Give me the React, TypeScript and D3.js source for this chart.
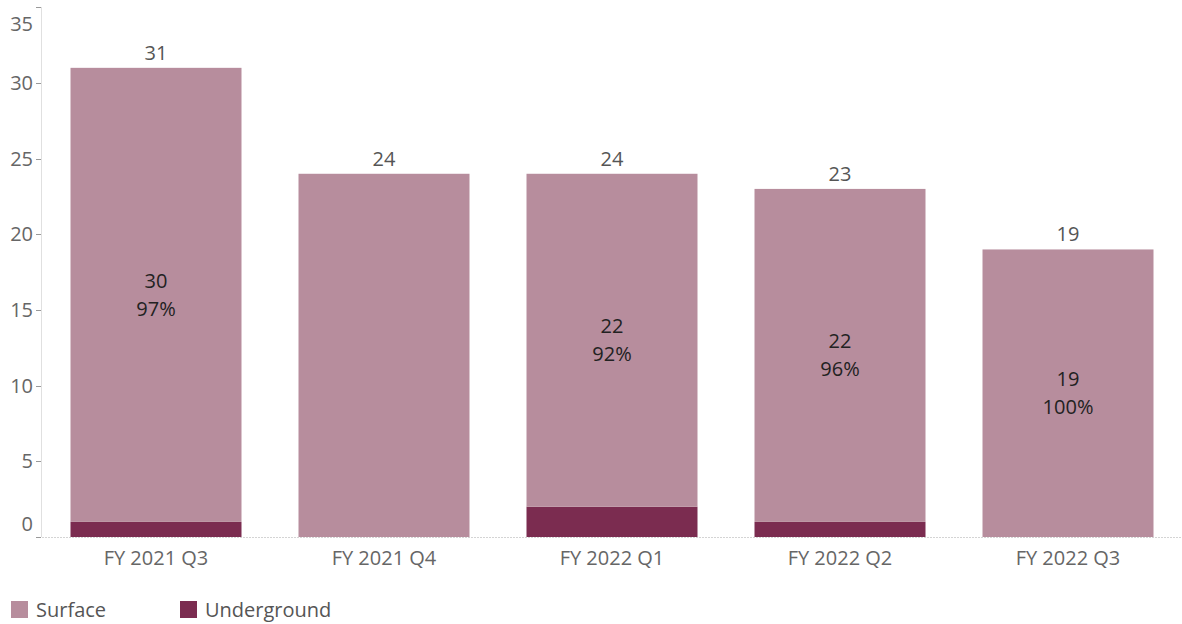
import React from "react";
import * as d3 from "d3";

const categories = ["FY 2021 Q3", "FY 2021 Q4", "FY 2022 Q1", "FY 2022 Q2", "FY 2022 Q3"];
const surface = [30, 24, 22, 22, 19];
const underground = [1, 0, 2, 1, 0];
const totals = [31, 24, 24, 23, 19];
const surfaceLabels = ["97%", "", "92%", "96%", "100%"];
const yTicks = [0, 5, 10, 15, 20, 25, 30, 35];
const seriesNames = ["Surface", "Underground"];
const colors = ["#b78d9d", "#7b2c50"];

const W = 1182, H = 624;
const FONT = "'Open Sans', sans-serif";

export default function App() {
  const y = d3.scaleLinear().domain([0, 35]).range([537, 7.3]);
  const x = d3.scaleBand().domain(categories).range([42, 1182]).paddingInner(0.25).paddingOuter(0.125);
  const stack = d3.stack<any>().keys(["underground", "surface"])(
    categories.map((c, i) => ({ cat: c, surface: surface[i], underground: underground[i] }))
  );
  const colorOf = (k: string) => (k === "surface" ? colors[0] : colors[1]);
  return (
    <svg width={W} height={H} style={{ position: "absolute", left: 0, top: 0 }} fontFamily={FONT}>
      {stack.map((layer) =>
        layer.map((d, i) => (
          <rect key={layer.key + i} x={x(categories[i])} width={x.bandwidth()}
            y={y(d[1])} height={Math.max(0, y(d[0]) - y(d[1]))} fill={colorOf(layer.key)} />
        ))
      )}
      <line x1={42} x2={1182} y1={537.5} y2={537.5} stroke="#d4d4d4" strokeDasharray="2,1" />
      <line x1={41.5} x2={41.5} y1={7} y2={537} stroke="#e0e0e0" />
      {yTicks.map((t) => {
        const ty = y(t);
        let ly = ty;
        if (t === 0) ly = ty - 13;
        if (t === 35) ly = ty + 17;
        return (
          <g key={t}>
            <line x1={36} x2={41} y1={Math.round(ty) + 0.5} y2={Math.round(ty) + 0.5} stroke="#999" />
            <text x={33} y={ly} dy="0.35em" textAnchor="end" fontSize={20} fill="#666">{t}</text>
          </g>
        );
      })}
      {categories.map((c, i) => {
        const cx = (x(c) as number) + x.bandwidth() / 2;
        const mid = y((underground[i] + totals[i]) / 2);
        return (
          <g key={c}>
            <text x={cx} y={y(totals[i]) - 8} textAnchor="middle" fontSize={20} fill="#555">{totals[i]}</text>
            <text x={cx} y={565} textAnchor="middle" fontSize={20} fill="#666">{c}</text>
            {surfaceLabels[i] && (
              <g>
                <text x={cx} y={mid - 14} dy="0.35em" textAnchor="middle" fontSize={20} fill="#222">{surface[i]}</text>
                <text x={cx} y={mid + 14} dy="0.35em" textAnchor="middle" fontSize={20} fill="#222">{surfaceLabels[i]}</text>
              </g>
            )}
          </g>
        );
      })}
      {seriesNames.map((s, i) => {
        const lx = i === 0 ? 11 : 180;
        return (
          <g key={s}>
            <rect x={lx} y={601} width={17} height={17} fill={colors[i]} />
            <text x={lx + 25} y={617} fontSize={20} fill="#555">{s}</text>
          </g>
        );
      })}
    </svg>
  );
}
